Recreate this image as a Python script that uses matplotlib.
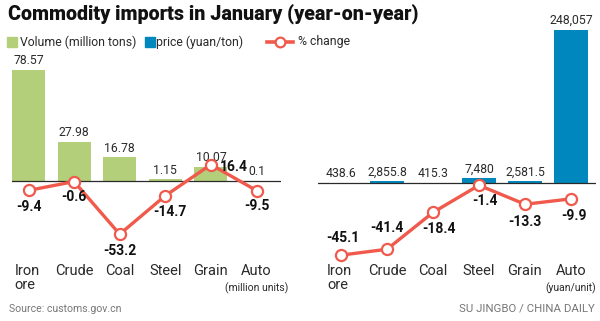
import matplotlib
matplotlib.use("Agg")
import matplotlib.pyplot as plt
from matplotlib.lines import Line2D
from matplotlib.patches import Rectangle

# data
categories = ["Iron\nore", "Crude", "Coal", "Steel", "Grain", "Auto"]
volume = [78.57, 27.98, 16.78, 1.15, 10.07, 0.1]
volume_labels = ["78.57", "27.98", "16.78", "1.15", "10.07", "0.1"]
volume_change = [-9.4, -0.6, -53.2, -14.7, 16.4, -9.5]
price = [438.6, 2855.8, 415.3, 7480, 2581.5, 248057]
price_labels = ["438.6", "2,855.8", "415.3", "7,480", "2,581.5", "248,057"]
price_change = [-45.1, -41.4, -18.4, -1.4, -13.3, -9.9]

GREEN = "#b3cf7a"
BLUE = "#0087bd"
RED = "#ef5a4c"
DARK = "#2a2a2a"
GREY = "#777777"

W, H = 600, 321
fig = plt.figure(figsize=(W / 100, H / 100), dpi=100)
plt.rcParams["font.family"] = ["Roboto", "DejaVu Sans"]


def px_axes(x0, x1, y_top, y_bot):
    return fig.add_axes([x0 / W, 1 - y_bot / H, (x1 - x0) / W, (y_bot - y_top) / H])


def panel(x0, x1, y_top, y_bot, first, step, zero_y, bar_scale, pct_scale,
          vals, vlabels, pct, color, pct_off):
    ax = px_axes(x0, x1, y_top, y_bot)
    ax.set_xlim(-(first - x0) / step, (x1 - first) / step)
    ax.set_ylim(-(y_bot - zero_y) / bar_scale, (zero_y - y_top) / bar_scale)
    ax.axis("off")
    xs = list(range(len(vals)))
    ax.bar(xs, vals, width=0.72, color=color, zorder=2)
    ax.axhline(0, color=DARK, lw=0.9, zorder=3)
    for x, v, t in zip(xs, vals, vlabels):
        ax.annotate(t, (x, v), xytext=(0, 2), textcoords="offset points",
                    ha="center", va="bottom", fontsize=8.8, color=DARK)

    ax2 = ax.twinx()
    ax2.set_ylim(-(y_bot - zero_y) / pct_scale, (zero_y - y_top) / pct_scale)
    ax2.axis("off")
    ax2.plot(xs, pct, color=RED, lw=2.4, zorder=4, solid_capstyle="round")
    ax2.plot(xs, pct, ls="none", marker="o", ms=8, mfc="white", mec=RED,
             mew=1.6, zorder=5)
    for x, p, (dx, dy) in zip(xs, pct, pct_off):
        ax2.annotate(f"{p:g}", (x, p), xytext=(dx, dy), textcoords="offset points",
                     ha="center", va="center", fontsize=10, fontweight="bold",
                     color="#111111", zorder=6)
    return ax


# left panel: volume
left_off = [(0, -12), (0, -11), (0, -12), (3, -12), (16.5, -1.5), (0, -11)]
panel(12, 281, 55, 250, 28.5, 45.6, 181, 1.41, 1.0,
      volume, volume_labels, volume_change, GREEN, left_off)

# right panel: price
right_off = [(1, 12), (0, 15), (4, -12), (4, -11), (0, -13), (2, -12)]
panel(318, 596, 25, 265, 341, 46, 183, 153 / 248057, 1.6,
      price, price_labels, price_change, BLUE, right_off)

# category labels
def cat_labels(first, step, note):
    for i, c in enumerate(categories):
        x = first + step * i
        if "\n" in c:
            fig.text((x - 14) / W, 1 - 264 / H, c, ha="left", va="top",
                     fontsize=10.5, color=DARK, linespacing=1.0)
        else:
            fig.text(x / W, 1 - 264 / H, c, ha="center", va="top",
                     fontsize=10.5, color=DARK)
    fig.text((first + step * 5) / W, 1 - 288 / H, note, ha="center",
             va="center", fontsize=7.5, color=DARK)


cat_labels(28.5, 45.6, "(million units)")
cat_labels(341, 46, "(yuan/unit)")

# title and legend
fig.text(8 / W, 1 - 14 / H, "Commodity imports in January (year-on-year)",
         ha="left", va="center", fontsize=14.1, fontweight="black",
         color="#111111")

fig.patches.append(Rectangle((7 / W, 1 - 47 / H), 10 / W, 10 / H,
                             transform=fig.transFigure, color=GREEN))
fig.text(20 / W, 1 - 42 / H, "Volume (million tons)", ha="left", va="center",
         fontsize=8.8, color=DARK)
fig.patches.append(Rectangle((145 / W, 1 - 47 / H), 10 / W, 10 / H,
                             transform=fig.transFigure, color=BLUE))
fig.text(156 / W, 1 - 42 / H, "price (yuan/ton)", ha="left", va="center",
         fontsize=8.8, color=DARK)
fig.lines.append(Line2D([267 / W, 293 / W], [1 - 42 / H, 1 - 42 / H],
                        transform=fig.transFigure, color=RED, lw=2.6))
fig.lines.append(Line2D([280 / W], [1 - 42 / H], transform=fig.transFigure,
                        marker="o", ms=7, mfc="white", mec=RED, mew=1.6))
fig.text(298 / W, 1 - 42 / H, "% change", ha="left", va="center",
         fontsize=8.8, color=DARK)

# footer
fig.text(9 / W, 1 - 309 / H, "Source: customs.gov.cn", ha="left", va="center",
         fontsize=7.6, color=GREY)
fig.text(595 / W, 1 - 309 / H, "SU JINGBO / CHINA DAILY", ha="right",
         va="center", fontsize=8.2, color=GREY)

fig.savefig("out.png", dpi=100, facecolor="white")
